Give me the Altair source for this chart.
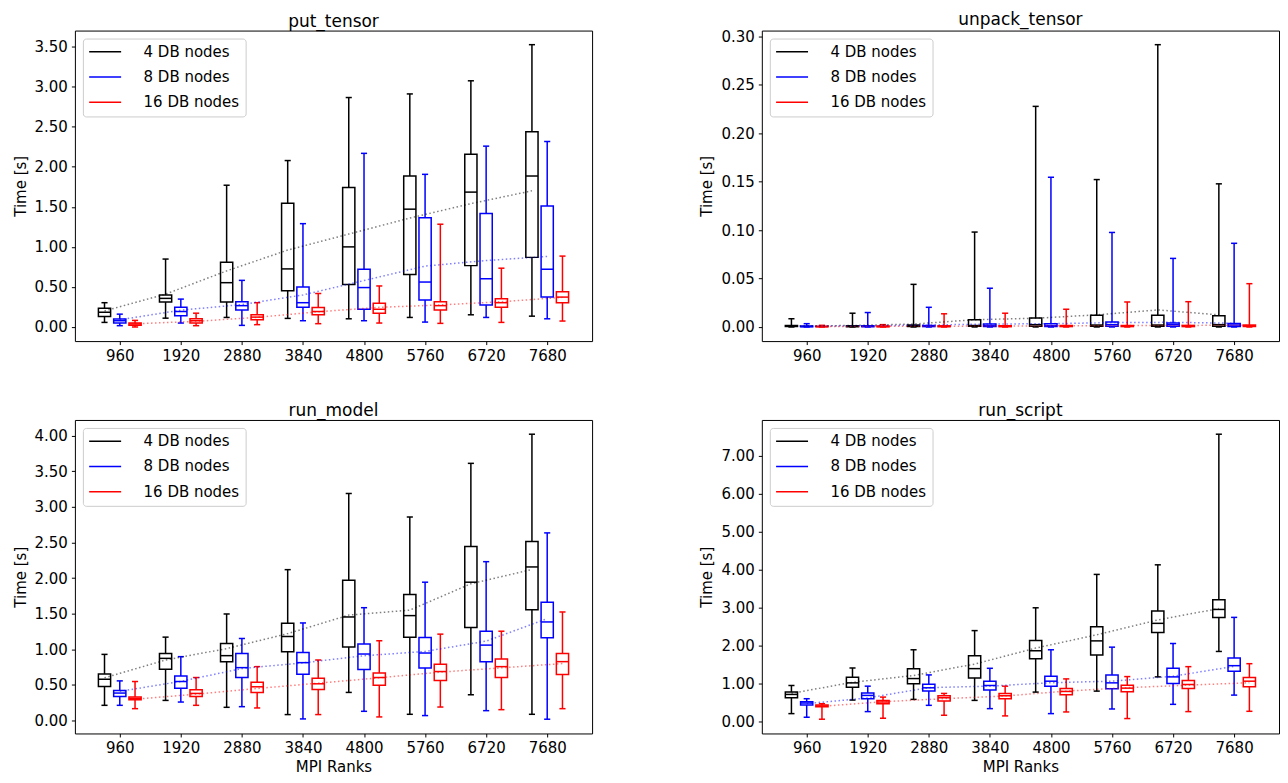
import json
import altair as alt
import pandas as pd

RANKS = ["960", "1920", "2880", "3840", "4800", "5760", "6720", "7680"]
SERIES = ["4 DB nodes", "8 DB nodes", "16 DB nodes"]

# each entry: (whisker_low, q1, median, q3, whisker_high)
PUT_4 = [(0.057, 0.131, 0.184, 0.234, 0.303), (0.11, 0.311, 0.357, 0.398, 0.848),
         (0.119, 0.311, 0.553, 0.807, 1.77), (0.107, 0.451, 0.725, 1.545, 2.078),
         (0.102, 0.529, 1.0, 1.742, 2.865), (0.119, 0.656, 1.471, 1.885, 2.91),
         (0.152, 0.766, 1.684, 2.156, 3.074), (0.135, 0.869, 1.885, 2.439, 3.525)]
PUT_8 = [(0.016, 0.049, 0.078, 0.10, 0.16), (0.049, 0.139, 0.193, 0.246, 0.348),
         (0.02, 0.213, 0.266, 0.316, 0.582), (0.078, 0.246, 0.303, 0.5, 1.29),
         (0.078, 0.221, 0.492, 0.721, 2.168), (0.061, 0.336, 0.561, 1.365, 1.906),
         (0.119, 0.275, 0.602, 1.418, 2.258), (0.102, 0.373, 0.721, 1.512, 2.316)]
PUT_16 = [(0.0, 0.02, 0.037, 0.049, 0.082), (0.016, 0.049, 0.078, 0.102, 0.172),
          (0.029, 0.09, 0.123, 0.152, 0.303), (0.041, 0.152, 0.193, 0.242, 0.418),
          (0.049, 0.172, 0.221, 0.295, 0.512), (0.045, 0.213, 0.266, 0.316, 1.283),
          (0.057, 0.246, 0.303, 0.352, 0.734), (0.074, 0.303, 0.373, 0.439, 0.885)]
PUT_4_MEAN = [0.20, 0.41, 0.70, 0.96, 1.16, 1.36, 1.54, 1.70]
PUT_8_MEAN = [0.09, 0.21, 0.28, 0.40, 0.58, 0.76, 0.83, 0.88]
PUT_16_MEAN = [0.04, 0.07, 0.12, 0.19, 0.245, 0.275, 0.315, 0.37]
PUT_TICKS = [0.0, 0.5, 1.0, 1.5, 2.0, 2.5, 3.0, 3.5]

UNPACK_4 = [(0.0, 0.0005, 0.001, 0.0015, 0.0085), (0.0, 0.0003, 0.0006, 0.0012, 0.0142),
            (0.0, 0.0005, 0.001, 0.002, 0.044), (0.0, 0.0008, 0.0015, 0.0075, 0.098),
            (0.0, 0.0007, 0.0024, 0.0092, 0.2278), (0.0, 0.0007, 0.002, 0.0122, 0.1522),
            (0.0, 0.0007, 0.002, 0.0122, 0.2915), (0.0, 0.0007, 0.0024, 0.0115, 0.1478)]
UNPACK_8 = [(0.0, 0.0002, 0.0005, 0.001, 0.0034), (0.0, 0.0003, 0.0006, 0.0012, 0.0149),
            (0.0, 0.0004, 0.0008, 0.0015, 0.0203), (0.0, 0.0006, 0.0012, 0.003, 0.040),
            (0.0, 0.0006, 0.0012, 0.0034, 0.1546), (0.0, 0.0007, 0.0024, 0.0051, 0.0976),
            (0.0, 0.0007, 0.0024, 0.0041, 0.0708), (0.0, 0.0006, 0.002, 0.0037, 0.0864)]
UNPACK_16 = [(0.0, 0.0002, 0.0004, 0.0008, 0.0017), (0.0, 0.0002, 0.0005, 0.001, 0.0024),
             (0.0, 0.0003, 0.0006, 0.0012, 0.0136), (0.0, 0.0003, 0.0007, 0.0013, 0.0142),
             (0.0, 0.0004, 0.0008, 0.0015, 0.0183), (0.0, 0.0004, 0.0008, 0.0015, 0.0258),
             (0.0, 0.0004, 0.0008, 0.0016, 0.0261), (0.0, 0.0005, 0.001, 0.002, 0.0447)]
UNPACK_4_MEAN = [0.001, 0.0015, 0.003, 0.0075, 0.009, 0.0125, 0.0176, 0.0125]
UNPACK_8_MEAN = [0.0008, 0.0012, 0.002, 0.003, 0.0034, 0.0045, 0.0048, 0.0038]
UNPACK_16_MEAN = [0.0004, 0.0006, 0.0008, 0.001, 0.0012, 0.0014, 0.0016, 0.0018]
UNPACK_TICKS = [0.0, 0.05, 0.10, 0.15, 0.20, 0.25, 0.30]

MODEL_4 = [(0.214, 0.479, 0.58, 0.655, 0.929), (0.283, 0.72, 0.873, 0.943, 1.171),
           (0.186, 0.827, 0.911, 1.082, 1.496), (0.084, 0.966, 1.18, 1.366, 2.118),
           (0.395, 1.031, 1.454, 1.97, 3.187), (0.088, 1.171, 1.473, 1.77, 2.857),
           (0.362, 1.305, 1.942, 2.444, 3.61), (0.088, 1.556, 2.156, 2.513, 4.019)]
MODEL_8 = [(0.214, 0.339, 0.386, 0.423, 0.557), (0.26, 0.455, 0.548, 0.627, 0.897),
           (0.195, 0.604, 0.743, 0.943, 1.152), (0.023, 0.65, 0.813, 0.957, 1.37),
           (0.13, 0.715, 0.934, 1.073, 1.584), (0.07, 0.739, 0.948, 1.166, 1.942),
           (0.139, 0.827, 1.059, 1.254, 2.23), (0.019, 1.161, 1.384, 1.659, 2.634)]
MODEL_16 = [(0.167, 0.293, 0.311, 0.33, 0.548), (0.214, 0.339, 0.381, 0.432, 0.604),
            (0.177, 0.395, 0.474, 0.539, 0.757), (0.084, 0.437, 0.516, 0.595, 0.85),
            (0.051, 0.497, 0.604, 0.669, 1.12), (0.19, 0.562, 0.688, 0.79, 1.213),
            (0.153, 0.604, 0.757, 0.864, 1.254), (0.167, 0.646, 0.827, 0.943, 1.524)]
MODEL_4_MEAN = [0.60, 0.85, 1.01, 1.22, 1.48, 1.55, 1.92, 2.12]
MODEL_8_MEAN = [0.41, 0.55, 0.73, 0.81, 0.91, 0.97, 1.115, 1.43]
MODEL_16_MEAN = [0.30, 0.37, 0.45, 0.525, 0.60, 0.68, 0.74, 0.80]
MODEL_TICKS = [0.0, 0.5, 1.0, 1.5, 2.0, 2.5, 3.0, 3.5, 4.0]

SCRIPT_4 = [(0.217, 0.635, 0.722, 0.783, 0.957), (0.574, 0.913, 1.026, 1.174, 1.417),
            (0.591, 1.0, 1.139, 1.40, 1.896), (0.565, 1.157, 1.40, 1.739, 2.40),
            (0.783, 1.661, 1.87, 2.139, 3.0), (0.809, 1.757, 2.13, 2.504, 3.878),
            (1.183, 2.348, 2.591, 2.913, 4.13), (1.852, 2.748, 2.957, 3.209, 7.565)]
SCRIPT_8 = [(0.122, 0.443, 0.496, 0.53, 0.609), (0.27, 0.609, 0.696, 0.757, 0.939),
            (0.435, 0.809, 0.896, 0.991, 1.235), (0.348, 0.835, 0.957, 1.07, 1.409),
            (0.217, 0.939, 1.07, 1.20, 1.896), (0.339, 0.87, 1.026, 1.235, 1.965),
            (0.461, 1.009, 1.183, 1.409, 2.061), (0.704, 1.33, 1.478, 1.678, 2.748)]
SCRIPT_16 = [(0.07, 0.40, 0.417, 0.443, 0.478), (0.096, 0.478, 0.522, 0.565, 0.652),
             (0.174, 0.548, 0.635, 0.687, 0.748), (0.157, 0.609, 0.687, 0.748, 0.939),
             (0.261, 0.713, 0.80, 0.878, 1.13), (0.087, 0.791, 0.887, 0.965, 1.191),
             (0.27, 0.878, 0.983, 1.087, 1.452), (0.278, 0.922, 1.07, 1.165, 1.53)]
SCRIPT_4_MEAN = [0.75, 1.04, 1.22, 1.52, 1.94, 2.29, 2.68, 2.98]
SCRIPT_8_MEAN = [0.48, 0.63, 0.90, 0.94, 1.03, 1.07, 1.20, 1.46]
SCRIPT_16_MEAN = [0.41, 0.53, 0.61, 0.68, 0.81, 0.90, 0.965, 1.03]
SCRIPT_TICKS = [0.0, 1.0, 2.0, 3.0, 4.0, 5.0, 6.0, 7.0]

# ---- style ----
COLORS = ["#000000", "#0000ff", "#ff0000"]
OFFSETS = [-0.25, 0.0, 0.25]
BOX_HALF = 0.1
CAP_HALF = 0.05
FONT = "DejaVu Sans"
W = 518


def panel(title, boxes, means, ticks, xtitle, h):
    rows = []
    for s, name in enumerate(SERIES):
        for i in range(len(RANKS)):
            lo, q1, med, q3, hi = boxes[s][i]
            rows.append(dict(series=name, pos=i + 1 + OFFSETS[s], lo=lo, q1=q1,
                             med=med, q3=q3, hi=hi, mean=means[s][i]))
    df = pd.DataFrame(rows)
    dmin = min(min(b[0] for b in bs) for bs in boxes)
    dmax = max(max(b[4] for b in bs) for bs in boxes)
    m = 0.05 * (dmax - dmin)

    xscale = alt.Scale(domain=[0.265, 8.735], nice=False, zero=False)
    xaxis = alt.Axis(values=list(range(1, 9)),
                     labelExpr=json.dumps(RANKS) + "[datum.value - 1]",
                     title=xtitle, grid=False)
    yscale = alt.Scale(domain=[dmin - m, dmax + m], nice=False, zero=False)
    yaxis = alt.Axis(values=ticks, format=".2f", title="Time [s]", grid=False)
    cscale = alt.Scale(domain=SERIES, range=COLORS)
    color = alt.Color(
        "series:N", scale=cscale,
        legend=alt.Legend(title=None, orient="top-left", offset=8, padding=5.8,
                          strokeColor="#cccccc", cornerRadius=3,
                          fillColor="rgba(255,255,255,0.8)",
                          symbolType="M-2.667,0H2.667", symbolSize=144,
                          symbolStrokeWidth=1.5, symbolOffset=9, labelOffset=31,
                          labelFontSize=15, labelFont=FONT, labelColor="black",
                          rowPadding=9.3, labelLimit=0))

    def X(f):
        return alt.X(f"{f}:Q", scale=xscale, axis=xaxis)

    def Y(f):
        return alt.Y(f"{f}:Q", scale=yscale, axis=yaxis)

    base = alt.Chart(df).transform_calculate(
        bl=f"datum.pos - {BOX_HALF}", br=f"datum.pos + {BOX_HALF}",
        cl=f"datum.pos - {CAP_HALF}", cr=f"datum.pos + {CAP_HALF}")

    sw = 1.5
    whisk_lo = base.mark_rule(strokeWidth=sw).encode(x=X("pos"), y=Y("lo"), y2="q1:Q", color=color)
    whisk_hi = base.mark_rule(strokeWidth=sw).encode(x=X("pos"), y=Y("q3"), y2="hi:Q", color=color)
    cap_lo = base.mark_rule(strokeWidth=sw).encode(x=X("cl"), x2="cr:Q", y=Y("lo"), color=color)
    cap_hi = base.mark_rule(strokeWidth=sw).encode(x=X("cl"), x2="cr:Q", y=Y("hi"), color=color)
    box = base.mark_rect(filled=False, fill="transparent", strokeWidth=sw).encode(
        x=X("bl"), x2="br:Q", y=Y("q1"), y2="q3:Q", color=color)
    median = base.mark_rule(strokeWidth=sw).encode(x=X("bl"), x2="br:Q", y=Y("med"), color=color)
    mean_line = base.mark_line(strokeDash=[1.5, 2.5], strokeWidth=1.5, opacity=0.5).encode(
        x=X("pos"), y=Y("mean"), color=color)

    return alt.layer(whisk_lo, whisk_hi, cap_lo, cap_hi, box, median, mean_line).properties(
        width=W, height=h,
        title=alt.TitleParams(title, fontSize=17, font=FONT, fontWeight="normal",
                              color="black", offset=0))


p1 = panel("put_tensor", [PUT_4, PUT_8, PUT_16], [PUT_4_MEAN, PUT_8_MEAN, PUT_16_MEAN],
           PUT_TICKS, None, 311)
p2 = panel("unpack_tensor", [UNPACK_4, UNPACK_8, UNPACK_16],
           [UNPACK_4_MEAN, UNPACK_8_MEAN, UNPACK_16_MEAN], UNPACK_TICKS, None, 311)
p3 = panel("run_model", [MODEL_4, MODEL_8, MODEL_16], [MODEL_4_MEAN, MODEL_8_MEAN, MODEL_16_MEAN],
           MODEL_TICKS, "MPI Ranks", 314)
p4 = panel("run_script", [SCRIPT_4, SCRIPT_8, SCRIPT_16], [SCRIPT_4_MEAN, SCRIPT_8_MEAN, SCRIPT_16_MEAN],
           SCRIPT_TICKS, "MPI Ranks", 314)

row1 = alt.hconcat(p1, p2, spacing=106).resolve_scale(color="independent").resolve_legend(color="independent")
row2 = alt.hconcat(p3, p4, spacing=106).resolve_scale(color="independent").resolve_legend(color="independent")

chart = alt.vconcat(row1, row2, spacing=37).resolve_scale(color="independent").resolve_legend(
    color="independent").properties(
    padding={"left": 4, "top": 2, "right": 0, "bottom": 0}
).configure(background="white").configure_view(stroke="black", strokeWidth=1).configure_axis(
    domain=False, ticks=True, tickColor="black", tickSize=3.5, tickWidth=1,
    labelFont=FONT, labelFontSize=15, labelColor="black", labelPadding=4,
    titleFont=FONT, titleFontSize=15, titleFontWeight="normal", titleColor="black",
    titlePadding=6
).configure_axisX(labelPadding=4, titlePadding=4)

chart.save("out.html", embed_options={"renderer": "svg", "actions": False})
